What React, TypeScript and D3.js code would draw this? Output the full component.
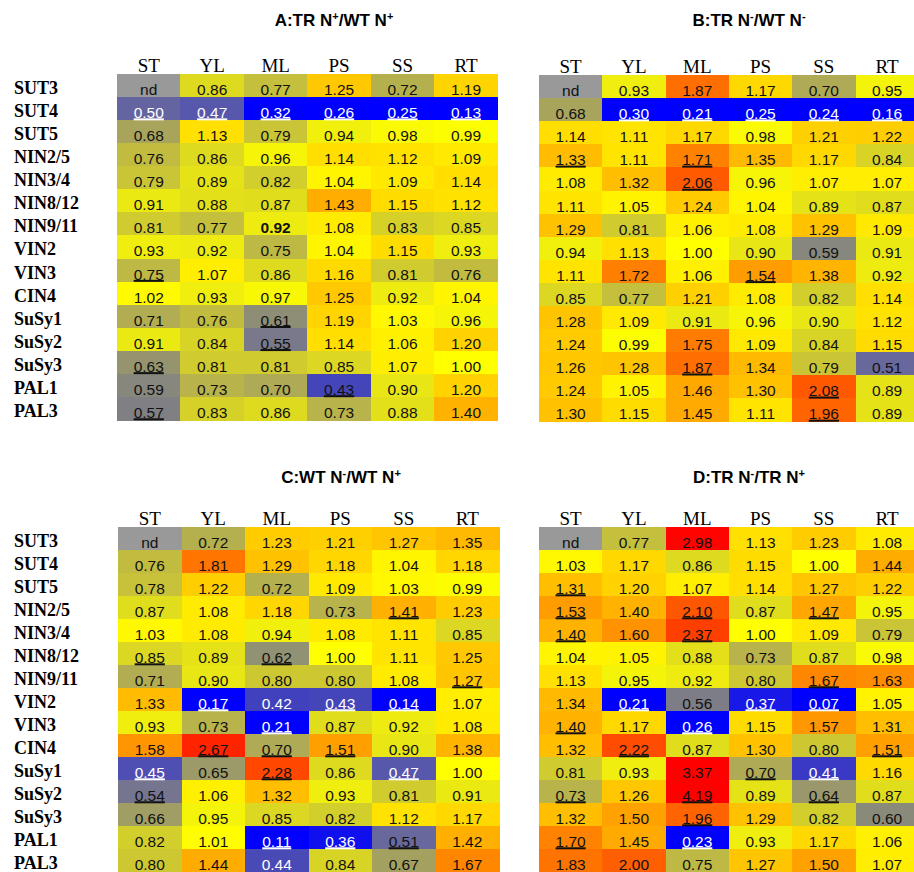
import React from "react";
import * as d3 from "d3";

const rows = ["SUT3", "SUT4", "SUT5", "NIN2/5", "NIN3/4", "NIN8/12", "NIN9/11", "VIN2", "VIN3", "CIN4", "SuSy1", "SuSy2", "SuSy3", "PAL1", "PAL3"];
const cols = ["ST", "YL", "ML", "PS", "SS", "RT"];

const valuesA: (number | null)[][] = [
  [null, 0.86, 0.77, 1.25, 0.72, 1.19],
  [0.50, 0.47, 0.32, 0.26, 0.25, 0.13],
  [0.68, 1.13, 0.79, 0.94, 0.98, 0.99],
  [0.76, 0.86, 0.96, 1.14, 1.12, 1.09],
  [0.79, 0.89, 0.82, 1.04, 1.09, 1.14],
  [0.91, 0.88, 0.87, 1.43, 1.15, 1.12],
  [0.81, 0.77, 0.92, 1.08, 0.83, 0.85],
  [0.93, 0.92, 0.75, 1.04, 1.15, 0.93],
  [0.75, 1.07, 0.86, 1.16, 0.81, 0.76],
  [1.02, 0.93, 0.97, 1.25, 0.92, 1.04],
  [0.71, 0.76, 0.61, 1.19, 1.03, 0.96],
  [0.91, 0.84, 0.55, 1.14, 1.06, 1.20],
  [0.63, 0.81, 0.81, 0.85, 1.07, 1.00],
  [0.59, 0.73, 0.70, 0.43, 0.90, 1.20],
  [0.57, 0.83, 0.86, 0.73, 0.88, 1.40],
];
const valuesB: (number | null)[][] = [
  [null, 0.93, 1.87, 1.17, 0.70, 0.95],
  [0.68, 0.30, 0.21, 0.25, 0.24, 0.16],
  [1.14, 1.11, 1.17, 0.98, 1.21, 1.22],
  [1.33, 1.11, 1.71, 1.35, 1.17, 0.84],
  [1.08, 1.32, 2.06, 0.96, 1.07, 1.07],
  [1.11, 1.05, 1.24, 1.04, 0.89, 0.87],
  [1.29, 0.81, 1.06, 1.08, 1.29, 1.09],
  [0.94, 1.13, 1.00, 0.90, 0.59, 0.91],
  [1.11, 1.72, 1.06, 1.54, 1.38, 0.92],
  [0.85, 0.77, 1.21, 1.08, 0.82, 1.14],
  [1.28, 1.09, 0.91, 0.96, 0.90, 1.12],
  [1.24, 0.99, 1.75, 1.09, 0.84, 1.15],
  [1.26, 1.28, 1.87, 1.34, 0.79, 0.51],
  [1.24, 1.05, 1.46, 1.30, 2.08, 0.89],
  [1.30, 1.15, 1.45, 1.11, 1.96, 0.89],
];
const valuesC: (number | null)[][] = [
  [null, 0.72, 1.23, 1.21, 1.27, 1.35],
  [0.76, 1.81, 1.29, 1.18, 1.04, 1.18],
  [0.78, 1.22, 0.72, 1.09, 1.03, 0.99],
  [0.87, 1.08, 1.18, 0.73, 1.41, 1.23],
  [1.03, 1.08, 0.94, 1.08, 1.11, 0.85],
  [0.85, 0.89, 0.62, 1.00, 1.11, 1.25],
  [0.71, 0.90, 0.80, 0.80, 1.08, 1.27],
  [1.33, 0.17, 0.42, 0.43, 0.14, 1.07],
  [0.93, 0.73, 0.21, 0.87, 0.92, 1.08],
  [1.58, 2.67, 0.70, 1.51, 0.90, 1.38],
  [0.45, 0.65, 2.28, 0.86, 0.47, 1.00],
  [0.54, 1.06, 1.32, 0.93, 0.81, 0.91],
  [0.66, 0.95, 0.85, 0.82, 1.12, 1.17],
  [0.82, 1.01, 0.11, 0.36, 0.51, 1.42],
  [0.80, 1.44, 0.44, 0.84, 0.67, 1.67],
];
const valuesD: (number | null)[][] = [
  [null, 0.77, 2.98, 1.13, 1.23, 1.08],
  [1.03, 1.17, 0.86, 1.15, 1.00, 1.44],
  [1.31, 1.20, 1.07, 1.14, 1.27, 1.22],
  [1.53, 1.40, 2.10, 0.87, 1.47, 0.95],
  [1.40, 1.60, 2.37, 1.00, 1.09, 0.79],
  [1.04, 1.05, 0.88, 0.73, 0.87, 0.98],
  [1.13, 0.95, 0.92, 0.80, 1.67, 1.63],
  [1.34, 0.21, 0.56, 0.37, 0.07, 1.05],
  [1.40, 1.17, 0.26, 1.15, 1.57, 1.31],
  [1.32, 2.22, 0.87, 1.30, 0.80, 1.51],
  [0.81, 0.93, 3.37, 0.70, 0.41, 1.16],
  [0.73, 1.26, 4.19, 0.89, 0.64, 0.87],
  [1.32, 1.50, 1.96, 1.29, 0.82, 0.60],
  [1.70, 1.45, 0.23, 0.93, 1.17, 1.06],
  [1.83, 2.00, 0.75, 1.27, 1.50, 1.07],
];

// significance marks (underlined) and light-text cells, "row|col"
const underlinedA = ["SUT4|ST", "SUT4|YL", "SUT4|ML", "SUT4|PS", "SUT4|SS", "SUT4|RT", "VIN3|ST", "SuSy1|ML", "SuSy2|ML", "SuSy3|ST", "PAL1|PS", "PAL3|ST"];
const lightA = ["SUT4|ST", "SUT4|YL", "SUT4|ML", "SUT4|PS", "SUT4|SS", "SUT4|RT"];
const boldA = ["NIN9/11|ML"];
const underlinedB = ["SUT4|YL", "SUT4|ML", "SUT4|PS", "SUT4|SS", "SUT4|RT", "NIN2/5|ST", "NIN2/5|ML", "NIN3/4|ML", "VIN3|PS", "SuSy3|ML", "PAL1|SS", "PAL3|SS"];
const lightB = ["SUT4|YL", "SUT4|ML", "SUT4|PS", "SUT4|SS", "SUT4|RT"];
const underlinedC = ["NIN2/5|SS", "NIN8/12|ST", "NIN8/12|ML", "NIN9/11|RT", "VIN2|YL", "VIN2|PS", "VIN2|SS", "VIN3|ML", "CIN4|YL", "CIN4|ML", "CIN4|PS", "SuSy1|ST", "SuSy1|ML", "SuSy1|SS", "SuSy2|ST", "PAL1|ML", "PAL1|PS", "PAL1|SS"];
const lightC = ["VIN2|YL", "VIN2|ML", "VIN2|PS", "VIN2|SS", "VIN3|ML", "SuSy1|ST", "SuSy1|SS", "PAL1|ML", "PAL1|PS", "PAL3|ML"];
const underlinedD = ["SUT5|ST", "NIN2/5|ST", "NIN2/5|ML", "NIN2/5|SS", "NIN3/4|ST", "NIN3/4|ML", "NIN9/11|SS", "VIN2|YL", "VIN2|PS", "VIN2|SS", "VIN3|ST", "VIN3|ML", "CIN4|YL", "CIN4|RT", "SuSy1|PS", "SuSy1|SS", "SuSy2|ST", "SuSy2|ML", "SuSy2|SS", "SuSy3|ML", "PAL1|ST", "PAL1|ML"];
const lightD = ["VIN2|YL", "VIN2|PS", "VIN2|SS", "VIN3|ML", "SuSy1|SS", "PAL1|ML"];

const colorStops = [0.34, 0.42, 0.5, 0.56, 0.62, 0.7, 0.8, 0.9, 1.0, 1.1, 1.25, 1.45, 1.7, 2.0, 2.4, 2.9, 3.0];
const colorRange = ["#0000ff", "#4141be", "#6464a0", "#7d7d87", "#919173", "#afaa55", "#cdc832", "#e8e614", "#ffff00", "#ffe600", "#ffc800", "#ffaa00", "#ff8200", "#ff5f00", "#ff3c00", "#ff0f00", "#ff0000"];
const color = d3.scaleLinear<string>().domain(colorStops).range(colorRange).clamp(true).interpolate(d3.interpolateRgb);

type Panel = {
  values: (number | null)[][];
  underlined: string[];
  light: string[];
  bold: string[];
  title: [string, string, string, string];
  x0: number; y0: number; cw: number; rh: number;
  titleX: number; titleY: number;
  showRows: boolean;
};

const panels: Panel[] = [
  { values: valuesA, underlined: underlinedA, light: lightA, bold: boldA, title: ["A:TR N", "+", "/WT N", "+"], x0: 117, y0: 74, cw: 63.45, rh: 23.07, titleX: 334, titleY: 26, showRows: true },
  { values: valuesB, underlined: underlinedB, light: lightB, bold: [], title: ["B:TR N", "-", "/WT N", "-"], x0: 539, y0: 75, cw: 63.3, rh: 23.1, titleX: 749, titleY: 26, showRows: false },
  { values: valuesC, underlined: underlinedC, light: lightC, bold: [], title: ["C:WT N", "-", "/WT N", "+"], x0: 118, y0: 527, cw: 63.5, rh: 23.0, titleX: 341, titleY: 483, showRows: true },
  { values: valuesD, underlined: underlinedD, light: lightD, bold: [], title: ["D:TR N", "-", "/TR N", "+"], x0: 539, y0: 527, cw: 63.3, rh: 23.0, titleX: 749, titleY: 483, showRows: false },
];

const CELL_FONT = 15.5;
let measureCtx: CanvasRenderingContext2D | null = null;
function textWidth(t: string, bold: boolean) {
  if (!measureCtx) measureCtx = document.createElement("canvas").getContext("2d");
  if (!measureCtx) return t.length * CELL_FONT * 0.5;
  measureCtx.font = `${bold ? "bold " : ""}${CELL_FONT}px "Liberation Sans", Arial, sans-serif`;
  return measureCtx.measureText(t).width;
}

function HeatPanel({ p }: { p: Panel }) {
  const x = d3.scaleBand<string>().domain(cols).range([p.x0, p.x0 + p.cw * cols.length]);
  const y = d3.scaleBand<string>().domain(rows).range([p.y0, p.y0 + p.rh * rows.length]);
  const bw = x.bandwidth();
  const bh = y.bandwidth();
  return (
    <g>
      <text x={p.titleX} y={p.titleY} textAnchor="middle" fontFamily='"Liberation Sans", Arial, sans-serif' fontWeight="bold" fontSize={17} fill="#000">
        <tspan>{p.title[0]}</tspan>
        <tspan fontSize={11} dy={-6}>{p.title[1]}</tspan>
        <tspan dy={6}>{p.title[2]}</tspan>
        <tspan fontSize={11} dy={-6}>{p.title[3]}</tspan>
      </text>
      {cols.map((c) => (
        <text key={c} x={(x(c) ?? 0) + bw / 2} y={p.y0 - 2.5} textAnchor="middle" fontFamily='"Liberation Serif", "Times New Roman", serif' fontSize={19} fill="#000">{c}</text>
      ))}
      {p.showRows && rows.map((r) => (
        <text key={r} x={14} y={(y(r) ?? 0) + 20} fontFamily='"Liberation Serif", "Times New Roman", serif' fontWeight="bold" fontSize={18} fill="#000">{r}</text>
      ))}
      {rows.map((r, i) => cols.map((c, j) => {
        const v = p.values[i][j];
        const key = `${r}|${c}`;
        const fill = v === null ? "#999999" : color(v);
        return (
          <rect key={key} x={x(c)} y={y(r)} width={bw + 0.5} height={bh + 0.5} fill={fill} shapeRendering="crispEdges" />
        );
      }))}
      {rows.map((r, i) => cols.map((c, j) => {
        const v = p.values[i][j];
        const key = `${r}|${c}`;
        const label = v === null ? "nd" : v.toFixed(2);
        const light = p.light.includes(key);
        const bold = p.bold.includes(key);
        const under = p.underlined.includes(key);
        const cx = (x(c) ?? 0) + bw / 2;
        const base = (y(r) ?? 0) + 21;
        const tc = light ? "#ffffff" : "#111111";
        const w = textWidth(label, bold);
        return (
          <g key={"t" + key}>
            <text x={cx} y={base} textAnchor="middle" fontFamily='"Liberation Sans", Arial, sans-serif' fontSize={CELL_FONT} fontWeight={bold ? "bold" : "normal"} fill={tc}>{label}</text>
            {under && <rect x={cx - w / 2} y={base + 0.3} width={w} height={2} fill={tc} />}
          </g>
        );
      }))}
    </g>
  );
}

export default function App() {
  return (
    <svg width={914} height={872} style={{ position: "absolute", left: 0, top: 0, background: "#fff" }}>
      <rect width={914} height={872} fill="#fff" />
      {panels.map((p, k) => <HeatPanel key={k} p={p} />)}
    </svg>
  );
}
